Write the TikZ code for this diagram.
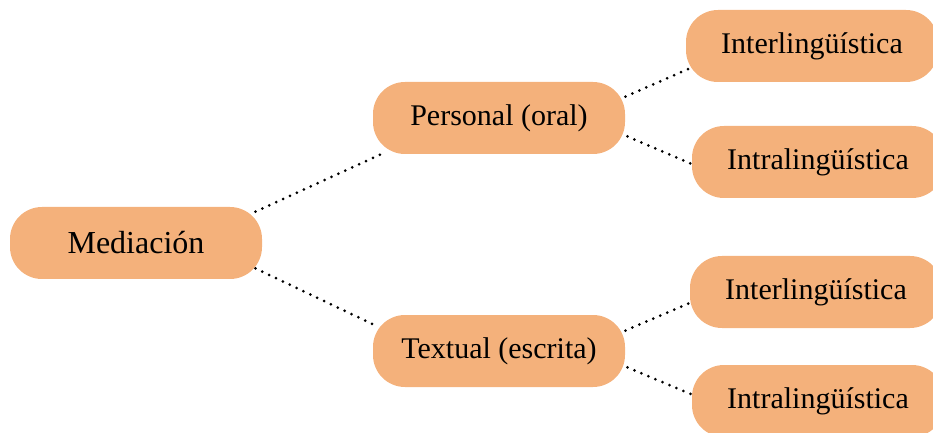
\documentclass[tikz,border=0pt]{standalone}
\usepackage{fontspec}
\setmainfont{Liberation Serif}
\usetikzlibrary{calc}
\definecolor{boxfill}{RGB}{244,177,123}
\tikzset{
  box/.style={fill=boxfill, rounded corners=16pt, minimum width=126pt, minimum height=36pt, inner sep=0pt, font=\fontsize{15}{18}\selectfont},
  link/.style={line width=1.5pt, dash pattern=on 0pt off 3.8pt, line cap=round}
}
\begin{document}
\begin{tikzpicture}[x=0.5pt,y=-0.5pt]
\useasboundingbox (0,0) rectangle (933,433);
\clip (0,0) rectangle (933,433);
\node[box, font=\fontsize{16}{19}\selectfont] (med) at (136,243) {Mediación};
\node[box] (per) at (499,118) {Personal (oral)};
\node[box] (tex) at (499,351) {Textual (escrita)};
\node[box] (ie1) at (812,46) {Interlingüística};
\node[box] (ia1) at (818,162) {Intralingüística};
\node[box] (ie2) at (816,292) {Interlingüística};
\node[box] (ia2) at (818,401) {Intralingüística};
\draw[link] ($(med.north east)+(-7,5)$) -- ($(per.south west)+(8,0)$);
\draw[link] ($(med.south east)+(-7,-11)$) -- ($(tex.north west)+(1,10)$);
\draw[link] ($(per.north east)+(0,15)$) -- ($(ie1.south west)+(4,-14)$);
\draw[link] ($(per.south east)+(2,-18)$) -- ($(ia1.west)+(0,2)$);
\draw[link] ($(tex.north east)+(0,16)$) -- ($(ie2.south west)+(-1,-25)$);
\draw[link] ($(tex.south east)+(2,-20)$) -- ($(ia2.west)+(-1,-7)$);
\end{tikzpicture}
\end{document}
